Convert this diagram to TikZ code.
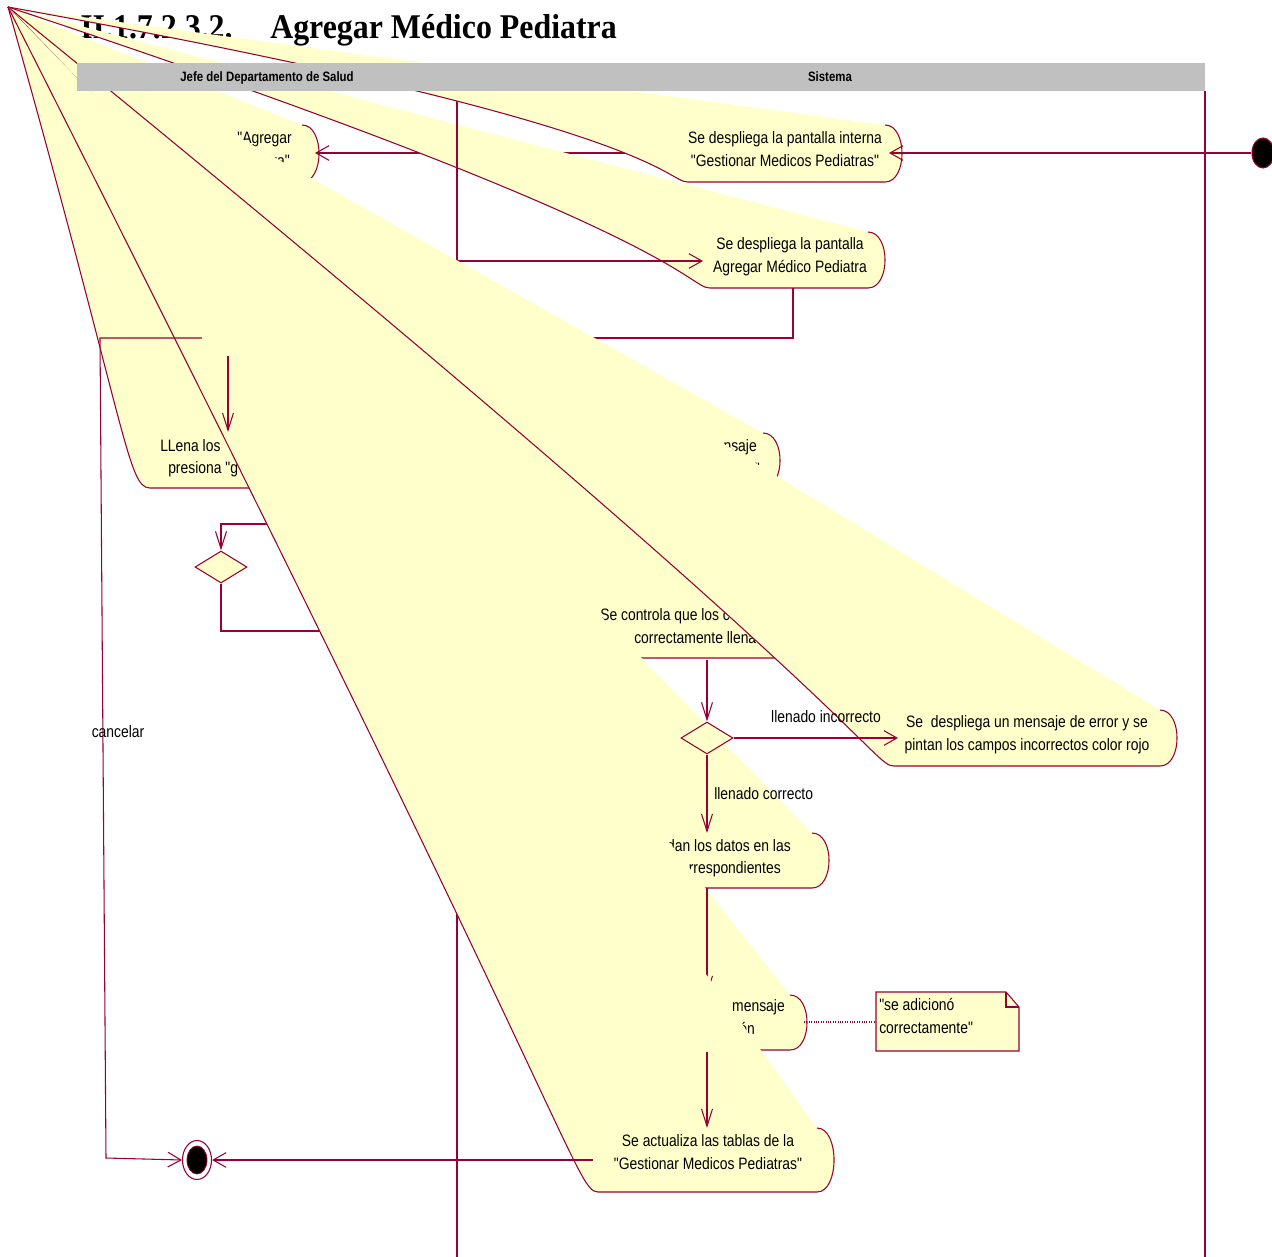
\documentclass[tikz,border=0pt]{standalone}
\usepackage{fontspec}
\usetikzlibrary{arrows.meta,shapes.geometric}
\newfontfamily\rosefont[FakeStretch=0.84]{Liberation Sans}
\newfontfamily\titlefont[FakeStretch=0.92]{Liberation Serif}
\definecolor{rosered}{RGB}{153,0,51}
\definecolor{rosefill}{RGB}{255,255,204}
\definecolor{lanegray}{RGB}{192,192,192}

\tikzset{
  outline/.style={draw=rosered, line width=0.8pt},
  flow/.style={draw=rosered, line width=0.8pt},
  harr/.style={flow, -{Straight Barb[length=9.75pt,width=11pt]}},
  varr/.style={flow, -{Straight Barb[length=13pt,width=8.25pt]}},
  txt/.style={font=\rosefont\fontsize{12.4}{15}\selectfont, inner sep=0pt, text=black},
  lanetxt/.style={font=\rosefont\bfseries\fontsize{10.2}{12}\selectfont, inner sep=0pt},
  ttl/.style={font=\titlefont\bfseries\fontsize{26}{30}\selectfont, inner sep=0pt},
  decision/.style={diamond, draw=rosered, fill=rosefill, line width=0.8pt,
    minimum width=39pt, minimum height=24pt, inner sep=0pt},
}

% activity outline: right arc, bottom edge, left corner running back to the apex
\newcommand{\actwedge}[4]{%
  \fill[rosefill] (#1,#2) .. controls +(22.7,0) and +(22.7,0) .. (#1,#3)
     -- (#4,#3) .. controls +(-22.7,0) and (#4-22.7,#2) .. (apex) -- cycle;
  \draw[outline] (#1,#2) .. controls +(22.7,0) and +(22.7,0) .. (#1,#3)
     -- (#4,#3) .. controls +(-22.7,0) and (#4-22.7,#2) .. (apex);
}

\begin{document}
\begin{tikzpicture}[x=0.75pt,y=-0.75pt]
\useasboundingbox (0,0) rectangle (1272,1257);
\fill[white] (0,0) rectangle (1272,1257);
\coordinate (apex) at (8,7);

% heading
\node[ttl, anchor=base west] (secnum) at (80,38) {II.1.7.2.3.2.};
\node[ttl, anchor=base west] (heading) at (270,38) {Agregar Médico Pediatra};

% "Agregar" button activity
\actwedge{302}{125}{182}{150}
\node[txt, anchor=base east] (s1a) at (292,143) {"Agregar};
\node[txt, anchor=base east] (s1b) at (290,166) {tra"};
\coordinate (s1e) at (315,153);
\coordinate (s2w) at (686,153);
\draw[harr] (s2w) -- (s1e);

% add screen activity
\actwedge{868}{232}{288}{710}
\node[txt, anchor=base] (s3a) at (790,249) {Se despliega la pantalla};
\node[txt, anchor=base] (s3b) at (790,272) {Agregar Médico Pediatra};
\coordinate (s3w) at (703,261);
\coordinate (s3s) at (793,288);
\coordinate (lanejoin) at (457,261);
\draw[harr] (lanejoin) -- (s3w);

% lane separators
\draw[flow] (457,91) -- (457,1257);
\draw[flow] (1205,91) -- (1205,1257);

% internal screen activity
\actwedge{885}{125}{182}{688}
\node[txt, anchor=base] (s2a) at (785,143) {Se despliega la pantalla interna};
\node[txt, anchor=base] (s2b) at (785,166) {"Gestionar Medicos Pediatras"};
\coordinate (s2e) at (889,153);
\node[draw=rosered, fill=black, ellipse, line width=0.8pt, minimum width=16.5pt,
  minimum height=22.5pt, inner sep=0pt] (init) at (1263,153) {};
\draw[harr] (init) -- (s2e);

% form filling activity
\actwedge{384}{430}{488}{150}
\node[txt, anchor=base west] (s4a) at (160,451) {LLena los};
\node[txt, anchor=base west] (s4b) at (168,473) {presiona "g};
\coordinate (s4n) at (228,432);
\coordinate (s4in) at (228,356);
\draw[varr] (s3s) -- (793,338) -- (228,338) -- (s4n);

% message activity
\actwedge{763}{433}{488}{557}
\node[txt, anchor=base east] (s5a) at (757,451) {nsaje};
\node[txt, anchor=base east] (s5b) at (760,474) {"};
\coordinate (s5s) at (660,488);

% first decision
\node[decision] (d1) at (221,567) {};
\coordinate (s6w) at (589,631);
\draw[varr] (s5s) -- (660,524) -- (221,524) -- (d1.north);
\draw[harr] (d1.south) -- (221,631) -- (s6w);

% field check activity
\actwedge{808}{600}{658}{603}
\node[txt, anchor=base west] (s6a) at (600,620) {Se controla que los c};
\node[txt, anchor=base west] (s6b) at (634,643) {correctamente llena};
\coordinate (s6s) at (707,660);

% error activity
\actwedge{1160}{710}{766}{894}
\node[txt, anchor=base] (s7a) at (1027,727) {Se\ \ despliega un mensaje de error y se};
\node[txt, anchor=base] (s7b) at (1027,750) {pintan los campos incorrectos color rojo};
\coordinate (s7w) at (898,738);

% save activity
\actwedge{812}{833}{888}{602}
\node[txt, anchor=base east] (s8a) at (791,851) {dan los datos en las};
\node[txt, anchor=base east] (s8b) at (781,873) {rrespondientes};
\coordinate (s8n) at (707,833);
\coordinate (s8s) at (707,888);

% second decision
\node[decision] (d2) at (707,738) {};
\draw[varr] (s6s) -- (d2.north);
\draw[harr] (d2.east) -- (s7w);
\node[txt, anchor=base] (lblno) at (826,722) {llenado incorrecto};
\draw[varr] (d2.south) -- (s8n);
\node[txt, anchor=base west] (lblok) at (714,799) {llenado correcto};

% confirmation activity
\actwedge{790}{995}{1050}{624}
\node[txt, anchor=base east] (s9a) at (785,1011) {mensaje};
\node[txt, anchor=base east] (s9b) at (755,1034) {ón};
\coordinate (s9n) at (707,995);
\coordinate (s9s) at (707,1052);
\coordinate (s9e) at (804,1022);
\draw[varr] (s8s) -- (s9n);

% note
\draw[outline, fill=rosefill] (876,992) -- (1006,992) -- (1019,1007) -- (1019,1051)
  -- (876,1051) -- cycle;
\draw[outline] (1006,992) -- (1006,1007) -- (1019,1007);
\coordinate (notew) at (876,1022);
\node[txt, anchor=base west] (notea) at (879,1010) {"se adicionó};
\node[txt, anchor=base west] (noteb) at (879,1033) {correctamente"};
\draw[rosered, densely dotted, line width=0.8pt] (s9e) -- (notew);

% table update activity
\actwedge{817}{1128}{1192}{598}
\node[txt, anchor=base] (s10a) at (708,1146) {Se actualiza las tablas de la};
\node[txt, anchor=base] (s10b) at (708,1169) {"Gestionar Medicos Pediatras"};
\coordinate (s10n) at (707,1128);
\coordinate (s10w) at (593,1160);
\draw[varr] (s9s) -- (s10n);

% final state
\node[draw=rosered, fill=white, ellipse, line width=0.8pt, minimum width=21.75pt,
  minimum height=29.25pt, inner sep=0pt] (final) at (197,1160) {};
\node[draw=rosered, fill=black, ellipse, line width=0.6pt, minimum width=15pt,
  minimum height=21pt, inner sep=0pt] (finaldot) at (197,1160) {};
\draw[harr] (s10w) -- (final);
\coordinate (cancelfrom) at (202,338);
\draw[harr] (cancelfrom) -- (100,338) -- (106,1158) -- (final.west);
\node[txt, anchor=base] (lblcancel) at (118,737) {cancelar};
\draw[varr] (s4in) -- (s4n);

% swimlane header
\fill[lanegray] (77,63) rectangle (1205,91);
\node[lanetxt, anchor=base] (laneJ) at (267,81) {Jefe del Departamento de Salud};
\node[lanetxt, anchor=base] (laneS) at (830,81) {Sistema};
\end{tikzpicture}
\end{document}
